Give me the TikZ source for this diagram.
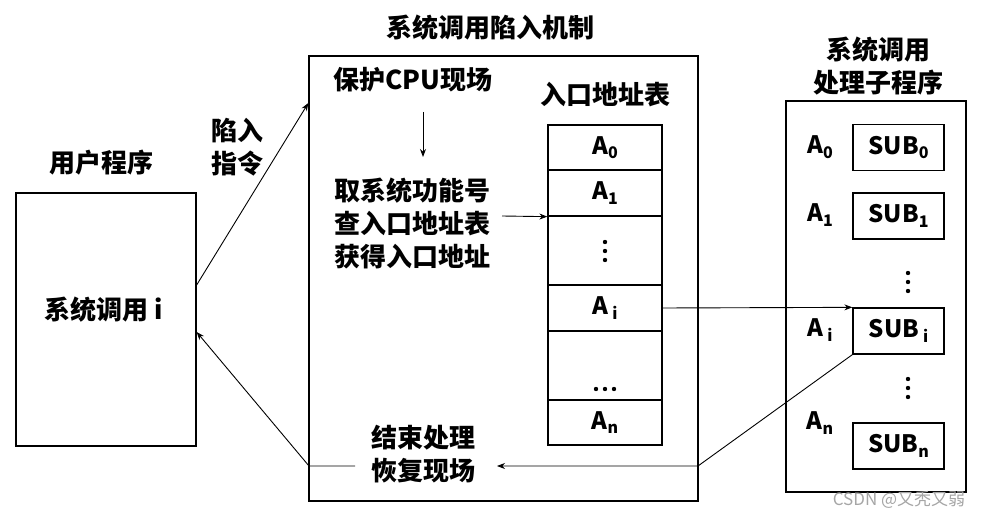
\documentclass[tikz,border=0pt]{standalone}
\usepackage{fontspec}
\setmainfont{Noto Sans CJK SC}
\usetikzlibrary{arrows.meta}
\tikzset{
  box/.style={draw, line width=1.3pt, inner sep=0pt},
  lbl/.style={font=\fontsize{26}{33}\selectfont\bfseries, inner sep=0pt, align=center},
  cell/.style={draw, line width=1.3pt, minimum width=114pt, inner sep=0pt, font=\fontsize{24}{28}\selectfont\bfseries},
  subbox/.style={draw, line width=1.3pt, minimum width=91pt, minimum height=46pt, inner sep=0pt, font=\fontsize{24}{28}\selectfont\bfseries},
  alab/.style={font=\fontsize{24}{28}\selectfont\bfseries, inner sep=0pt},
  arr/.style={-{Stealth[length=8pt,width=6pt]}, line width=0.9pt},
}
\newcommand\sbx[1]{\raisebox{-0.35ex}{\fontsize{16}{16}\selectfont #1}}
\newcommand\vdt{\tikz[baseline=0pt]{\foreach \k in {0,9,18}{\fill (0,\k pt) circle (2.2pt);}}}
\begin{document}
\begin{tikzpicture}[x=1pt,y=-1pt]
\useasboundingbox (0,0) rectangle (983,518);
% boxes
\node[box, minimum width=180pt, minimum height=253pt] (user) at (106,319.5) {};
\node[box, minimum width=389pt, minimum height=445pt] (mid) at (503.5,278.5) {};
\node[box, minimum width=180pt, minimum height=391pt] (right) at (876,296.5) {};
% titles
\node[lbl] (tuser) at (101,163) {用户程序};
\node[lbl] (tmid) at (490,28) {系统调用陷入机制};
\node[lbl] (tright) at (878,66) {系统调用\\处理子程序};
\node[lbl] (call) at (104,310) {系统调用 i};
\node[lbl] (trap) at (237,147) {陷入\\指令};
% middle contents
\node[lbl] (protect) at (413,80) {保护CPU现场};
\node[lbl] (getfn) at (412,223) {取系统功能号\\查入口地址表\\获得入口地址};
\node[lbl] (tbl) at (605,95) {入口地址表};
\node[lbl] (endp) at (423,454) {结束处理\\恢复现场};
% table
\node[cell, minimum height=45pt] (A0) at (605,147.5) {A\sbx{0}};
\node[cell, minimum height=46pt] (A1) at (605,193) {A\sbx{1}};
\node[cell, minimum height=69pt] (Ad) at (605,250.5) {};
\node[cell, minimum height=46pt] (Ai) at (605,308) {A\,\sbx{i}};
\node[cell, minimum height=69pt] (Ab) at (605,365.5) {};
\node[cell, minimum height=45pt] (An) at (605,422.5) {A\sbx{n}};
\node[inner sep=0pt] (dots1) at (605,251) {\vdt};
\node[inner sep=0pt] (dots2) at (605,389) {\tikz{\foreach \k in {0,9,18}{\fill (\k pt,0) circle (2.2pt);}}};
% subroutines
\node[subbox] (S0) at (898.5,147.5) {SUB\sbx{0}};
\node[subbox] (S1) at (898.5,216) {SUB\sbx{1}};
\node[subbox] (Si) at (898.5,331) {SUB\,\sbx{i}};
\node[subbox] (Sn) at (898.5,446) {SUB\sbx{n}};
\node[alab] (L0) at (820,147) {A\sbx{0}};
\node[alab] (L1) at (820,215) {A\sbx{1}};
\node[alab] (Li) at (820,330) {A\,\sbx{i}};
\node[alab] (Ln) at (820,423) {A\sbx{n}};
\node[inner sep=0pt] (dots3) at (908,282) {\vdt};
\node[inner sep=0pt] (dots4) at (908,388) {\vdt};
% watermark
\node[inner sep=0pt, text=black!35, font=\fontsize{17}{17}\selectfont] (wm) at (899,500) {CSDN @又秃又弱};
% connectors
\draw[arr] ([yshift=34.5pt]user.east) -- ([yshift=175.5pt]mid.west);
\coordinate (p1) at (423,112);
\coordinate (p2) at (423,157);
\draw[arr] (p1) -- (p2);
\coordinate (q1) at (502,216);
\draw[arr] (q1) -- (A1.south west);
\draw[arr] (Ai.east) -- (Si.north west);
\coordinate (r0) at (698,466);
\coordinate (r3) at (497,466);
\draw[arr] (Si.south west) -- (r0) -- (r3);
\coordinate (r1) at (355,466);
\coordinate (r2) at (309,466);
\draw[arr] (r1) -- (r2) -- ([yshift=-12.5pt]user.east);
\end{tikzpicture}
\end{document}
